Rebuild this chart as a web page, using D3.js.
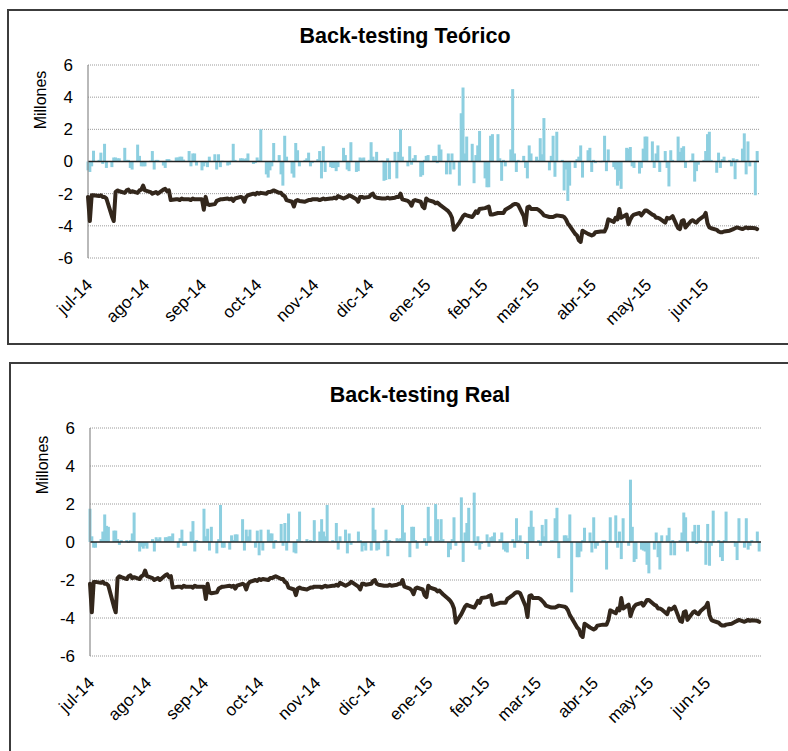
<!DOCTYPE html>
<html>
<head>
<meta charset="utf-8">
<script src="https://cdn.jsdelivr.net/npm/d3@7"></script>
<style>
  body { margin: 0; background: #fff; }
  svg { display: block; font-family: Arial, "Liberation Sans", sans-serif; }
</style>
</head>
<body>
<div id="chart"></div>
<script>
const monthLabels = ['jul-14', 'ago-14', 'sep-14', 'oct-14', 'nov-14', 'dic-14',
  'ene-15', 'feb-15', 'mar-15', 'abr-15', 'may-15', 'jun-15'];
const yTicks = [-6, -4, -2, 0, 2, 4, 6];

// one row per month, one value per business day (millones)
const acumulado = [
  [-2.2, -3.7, -2.1, -2.1, -2.15, -2.1, -2.2, -2.2, -2.3, -3.4, -3.7, -1.9, -1.8, -1.85, -1.95, -1.8, -1.75, -1.9, -1.85, -1.95, -1.8, -1.75, -1.5],
  [-1.8, -1.9, -2.0, -1.95, -1.9, -2.0, -1.75, -1.7, -1.85, -1.8, -2.4, -2.35, -2.35, -2.4, -2.3, -2.35, -2.35, -2.4, -2.3, -2.35, -2.35],
  [-2.35, -3.0, -2.2, -2.65, -2.7, -2.65, -2.45, -2.4, -2.35, -2.35, -2.3, -2.35, -2.3, -2.45, -2.3, -2.2, -2.25, -2.5, -2.2, -2.1, -2.0, -2.05],
  [-1.95, -2.0, -1.95, -2.0, -1.9, -1.9, -1.85, -1.8, -1.95, -1.95, -2.1, -2.15, -2.4, -2.5, -2.8, -2.45, -2.4, -2.45, -2.5, -2.45, -2.4, -2.4, -2.35],
  [-2.35, -2.4, -2.35, -2.3, -2.35, -2.3, -2.3, -2.25, -2.3, -2.15, -2.3, -2.25, -2.2, -2.1, -2.15, -2.35, -2.5, -2.2, -2.2, -2.25],
  [-2.2, -2.05, -2.0, -2.2, -2.25, -2.3, -2.3, -2.3, -2.25, -2.3, -2.25, -2.2, -2.2, -2.0, -2.35, -2.45, -2.55, -2.75, -2.45, -2.4, -2.5, -2.8, -2.9],
  [-2.3, -2.4, -2.5, -2.6, -2.55, -2.65, -2.75, -3.0, -3.1, -3.25, -3.5, -4.25, -3.8, -3.6, -3.4, -3.3, -3.35, -3.45, -3.3, -3.1, -3.2, -2.95],
  [-2.9, -2.85, -2.8, -3.3, -3.3, -3.2, -3.2, -3.2, -3.2, -3.0, -2.8, -2.7, -2.65, -2.65, -2.7, -3.4, -3.95, -2.85, -2.8, -2.95],
  [-2.95, -3.0, -3.1, -3.2, -3.35, -3.45, -3.45, -3.45, -3.4, -3.35, -3.4, -3.45, -3.6, -3.85, -4.0, -4.5, -4.6, -4.9, -5.0, -4.3, -4.5, -4.55],
  [-4.6, -4.55, -4.4, -4.35, -4.35, -4.35, -4.1, -3.6, -3.75, -3.5, -3.6, -2.95, -3.5, -3.3, -3.9, -3.6, -3.4, -3.3, -3.2, -3.35, -3.2, -3.05],
  [-3.05, -3.3, -3.35, -3.5, -3.5, -3.55, -3.8, -3.5, -3.55, -3.5, -3.4, -4.15, -4.2, -3.7, -3.65, -4.1, -3.7, -3.65, -3.75, -3.8, -3.65],
  [-3.4, -3.2, -3.85, -4.1, -4.15, -4.25, -4.35, -4.4, -4.4, -4.35, -4.3, -4.25, -4.2, -4.15, -4.1, -4.2, -4.15, -4.1, -4.15, -4.12, -4.15, -4.2]
];

const teorico = [
  [-0.55, -0.65, -0.3, 0.67, 0.1, 0.55, -0.15, 1.1, -0.4, -0.35, 0.25, 0.25, 0.2, 0.2, 0.85, 0.1, 0.1, -0.4, -0.5, 1.05, 0.35, -0.3, -0.3],
  [-0.3, 0.05, 0.65, -0.5, 0.1, 0.1, -0.25, -0.4, 0.15, 0.15, 0.05, 0.25, 0.25, 0.3, 0.3, 0.12, 0.65, -0.3, 0.5, 0.5, -0.25],
  [-0.55, -0.3, -0.1, -0.35, 0.3, 0.45, -0.5, 0.45, -0.35, 0.05, -0.25, -0.2, 0.05, 1.1, 0.1, 0.2, 0.2, 0.15, 0.2, 0.5, -0.15, -0.1],
  [0.25, 0.1, 2.0, -0.8, -1.0, -0.55, -0.3, 1.15, 0.4, -0.8, -1.5, 1.6, 0.3, -0.75, -1.0, 1.15, 0.7, -0.3, 0.1, 0.2, 0.55, -0.3, -0.1],
  [0.15, 0.65, -1.05, 0.95, -0.65, -0.35, -0.4, -0.4, -0.6, -0.35, 0.85, 0.4, -0.5, -0.6, 1.2, -0.65, -0.6, 0.25, 0.2, 0.25],
  [0.1, 1.2, 0.3, 0.1, 0.6, 0.05, -1.2, -1.15, 0.2, -1.1, 0.6, -1.05, 0.6, 2.0, 0.3, -0.3, 0.95, -0.2, 0.2, 0.4, -0.95, -0.85, 0.1],
  [0.35, 0.4, 0.35, 0.35, -0.1, 1.05, 0.75, -0.8, 0.5, -0.8, 0.5, -0.5, -1.5, 3.0, 4.6, 0.5, 1.55, 1.1, -1.35, 0.4, 1.0, 1.9],
  [-1.05, -1.6, -1.6, 1.6, 1.7, 1.7, 0.2, -1.2, 0.1, -0.3, 0.75, 4.5, 0.5, -0.65, 0.1, 0.35, -0.4, -1.05, 1.0, 0.5],
  [0.3, 0.1, 1.45, 0.45, 2.7, -0.55, 0.35, 1.6, -0.95, 1.85, 0.1, -1.8, -0.5, -2.45, -1.5, -0.4, 0.15, 0.3, 1.0, -1.0, 0.7, 0.85],
  [-0.65, 0.1, -0.1, -0.05, 0.05, 1.6, -0.6, 0.75, -0.35, -0.5, -1.5, -1.2, -1.7, 0.85, 0.8, 0.9, -0.3, -0.4, -0.75, -0.4, 0.8, 1.55],
  [1.55, 1.25, -0.4, 0.5, 1.0, -0.65, 0.65, -0.4, -1.55, 0.7, 0.1, 1.55, 0.6, 0.85, 0.95, -0.4, 0.1, 0.5, -1.25, -0.6, -0.2],
  [0.1, 0.65, 1.7, 1.85, 0.1, -0.7, 0.55, -0.4, 0.15, 0.3, 0.1, -0.3, 0.2, -1.1, 0.15, 0.8, 1.75, -0.8, 1.25, -0.3, -2.1, 0.65]
];

const real = [
  [1.75, 0.3, -0.3, -0.3, 0.15, 0.55, 1.45, 0.85, 0.8, 0.6, 0.6, 0.15, -0.15, 0.1, 0.1, -0.05, 0.1, 0.45, 1.55, -0.5, -0.25, -0.35, -0.2],
  [-0.35, 0.15, -0.5, 0.25, 0.15, 0.25, 0.25, 0.25, 0.3, 0.3, 0.45, -0.3, 0.2, 0.65, -0.2, -0.2, 0.55, 1.1, -0.5, 0.1, 0.05],
  [1.75, 0.3, 0.7, -0.45, 0.8, -0.6, 0.15, 1.95, -0.3, -0.3, -0.4, 0.35, 0.1, 0.4, 0.4, 1.2, -0.45, 0.65, 0.3, 0.65, -0.3, 0.6],
  [-0.7, 0.65, -0.45, 0.65, 0.45, 0.45, -0.35, 0.1, 0.95, -0.2, 1.0, -0.45, 1.5, -0.55, -0.6, 0.15, 1.6, 0.05, 0.15, 0.05, 0.1, 0.05, 1.15],
  [0.55, 1.2, 0.55, 0.3, 1.95, 0.1, 0.05, 1.0, -0.4, 0.3, 0.65, -0.6, 0.45, -0.15, 0.05, 0.55, 0.1, -0.5, -0.2, -0.45],
  [-0.45, 1.8, 0.65, -0.45, -0.4, 0.1, 0.65, -0.75, 0.1, 0.05, 0.2, 0.15, 0.2, 1.95, 0.5, -0.8, 0.8, 0.8, 0.1, -0.35, 0.05, 0.2, -0.2],
  [1.85, 0.3, 2.0, 1.2, 0.1, 1.2, 0.15, -0.8, -0.4, 0.15, 1.3, -0.2, 2.35, -1.05, 0.5, 1.0, 1.8, 2.6, -0.2, 0.3, -0.4, -0.1],
  [0.4, -0.25, 0.25, 0.3, 0.5, 0.15, 0.5, -0.4, -0.5, -0.55, 0.15, -0.3, 1.25, 0.1, 0.35, -0.1, -0.9, 0.8, 1.65, 0.8],
  [0.1, -0.2, 0.9, 0.3, 1.2, 0.1, 0.1, 1.25, 1.8, -0.85, 0.35, 0.35, 0.2, 1.45, -2.65, -0.8, -0.8, -0.5, 0.1, 0.75, 0.5, -0.55],
  [1.3, -0.35, -0.2, 0.1, 0.1, -1.45, 0.05, 1.3, 1.4, -0.3, 0.55, -0.9, 1.25, -0.2, 3.28, 0.8, -1.05, -0.9, -0.4, -0.45, -0.5, -1.2],
  [-1.65, -0.4, 0.5, -0.8, -1.45, 0.35, 0.35, 0.75, -0.7, 0.1, -0.7, 0.1, 0.5, 1.55, 1.3, -0.5, 0.55, 0.9, -0.1, 0.9, 0.1],
  [-1.2, 0.95, -1.25, -0.2, 1.65, 0.1, -0.8, -1.0, 0.1, 1.6, 0.05, 0.05, -0.25, -0.95, 1.25, -0.3, 1.25, -0.4, -0.2, 0.1, 0.55, -0.5]
];

const width = 788;
const height = 751;
const startDate = new Date(2014, 6, 1);
const endDate = new Date(2015, 6, 1);
const months = d3.timeMonth.range(startDate, endDate);

const barColor = '#8dcfe0';
const lineColor = '#33271c';
const gridColor = '#9a9a9a';

// weekdays of a month, used to place the daily values
function businessDays(month) {
  let days = d3.timeDay.range(month, d3.timeMonth.offset(month, 1));
  return days.filter(function(d) { return d.getDay() !== 0 && d.getDay() !== 6; });
}

function toSeries(rows) {
  let out = [];
  months.forEach(function(m, i) {
    let days = businessDays(m);
    let vals = rows[i];
    vals.forEach(function(v, j) {
      let date = days[j];
      if (vals.length !== days.length) {
        // fallback: spread evenly over the month
        let next = d3.timeMonth.offset(m, 1);
        date = new Date(+m + (next - m) * (j + 0.5) / vals.length);
      }
      out.push({date: date, value: v});
    });
  });
  return out;
}

const lineData = toSeries(acumulado);

const svg = d3.select('#chart')
  .append('svg')
  .attr('width', width)
  .attr('height', height);

const panels = [
  {title: 'Back-testing Teórico', bars: toSeries(teorico),
   box: [8, 10, 790, 344], titleX: 405, titleY: 43,
   x0: 88, x1: 759, yTop: 65, yBottom: 258, labelY: 100},
  {title: 'Back-testing Real', bars: toSeries(real),
   box: [10, 363, 790, 760], titleX: 420, titleY: 402,
   x0: 90, x1: 761, yTop: 428, yBottom: 656, labelY: 465}
];

panels.forEach(drawPanel);

function drawPanel(p) {
  let g = svg.append('g');

  g.append('rect')
    .attr('x', p.box[0])
    .attr('y', p.box[1])
    .attr('width', p.box[2] - p.box[0])
    .attr('height', p.box[3] - p.box[1])
    .attr('fill', 'none')
    .attr('stroke', '#3c3c3c')
    .attr('stroke-width', 2);

  g.append('text')
    .attr('x', p.titleX)
    .attr('y', p.titleY)
    .attr('text-anchor', 'middle')
    .style('font-size', '21.5px')
    .style('font-weight', 'bold')
    .text(p.title);

  let x = d3.scaleTime().domain([startDate, endDate]).range([p.x0, p.x1]);
  let y = d3.scaleLinear().domain([-6, 6]).range([p.yBottom, p.yTop]);

  // dotted gridlines
  g.selectAll('line.grid')
    .data(yTicks.filter(function(t) { return t !== 0; }))
    .enter().append('line')
    .attr('class', 'grid')
    .attr('x1', p.x0)
    .attr('x2', p.x1)
    .attr('y1', function(d) { return y(d); })
    .attr('y2', function(d) { return y(d); })
    .attr('stroke', gridColor)
    .attr('stroke-width', 1)
    .attr('stroke-dasharray', '1,1');

  g.selectAll('rect.bar')
    .data(p.bars)
    .enter().append('rect')
    .attr('class', 'bar')
    .attr('x', function(d) { return x(d.date) - 1.5; })
    .attr('width', 3)
    .attr('y', function(d) { return y(Math.max(0, d.value)); })
    .attr('height', function(d) { return Math.abs(y(d.value) - y(0)); })
    .attr('fill', barColor);

  g.append('line')
    .attr('x1', p.x0)
    .attr('x2', p.x1)
    .attr('y1', y(0))
    .attr('y2', y(0))
    .attr('stroke', '#222')
    .attr('stroke-width', 1.3);

  g.append('line')
    .attr('x1', p.x0)
    .attr('x2', p.x0)
    .attr('y1', p.yTop)
    .attr('y2', p.yBottom)
    .attr('stroke', '#8a8a8a')
    .attr('stroke-width', 1.2);

  let line = d3.line()
    .x(function(d) { return x(d.date); })
    .y(function(d) { return y(d.value); });

  g.append('path')
    .datum(lineData)
    .attr('d', line)
    .attr('fill', 'none')
    .attr('stroke', lineColor)
    .attr('stroke-width', 4)
    .attr('stroke-linejoin', 'round')
    .attr('stroke-linecap', 'round');

  let yAxis = g.append('g')
    .attr('transform', 'translate(' + p.x0 + ',0)')
    .call(d3.axisLeft(y).tickValues(yTicks).tickSize(0).tickPadding(15)
      .tickFormat(function(d) { return String(d); }));
  yAxis.select('.domain').remove();
  yAxis.selectAll('text')
    .style('font-size', '17px')
    .attr('fill', '#000')
    .attr('font-family', null);

  let xAxis = g.append('g')
    .attr('transform', 'translate(0,' + p.yBottom + ')')
    .call(d3.axisBottom(x).tickValues(months).tickSize(0)
      .tickFormat(function(d, i) { return monthLabels[i]; }));
  xAxis.select('.domain').remove();
  xAxis.selectAll('text')
    .style('font-size', '17px')
    .attr('fill', '#000')
    .attr('font-family', null)
    .attr('text-anchor', 'end')
    .attr('y', 0)
    .attr('dy', 0)
    .attr('transform', 'translate(5,28) rotate(-45)');

  g.append('text')
    .attr('transform', 'translate(' + (p.x0 - 42) + ',' + p.labelY + ') rotate(-90)')
    .attr('text-anchor', 'middle')
    .style('font-size', '16px')
    .text('Millones');
}
</script>
</body>
</html>
